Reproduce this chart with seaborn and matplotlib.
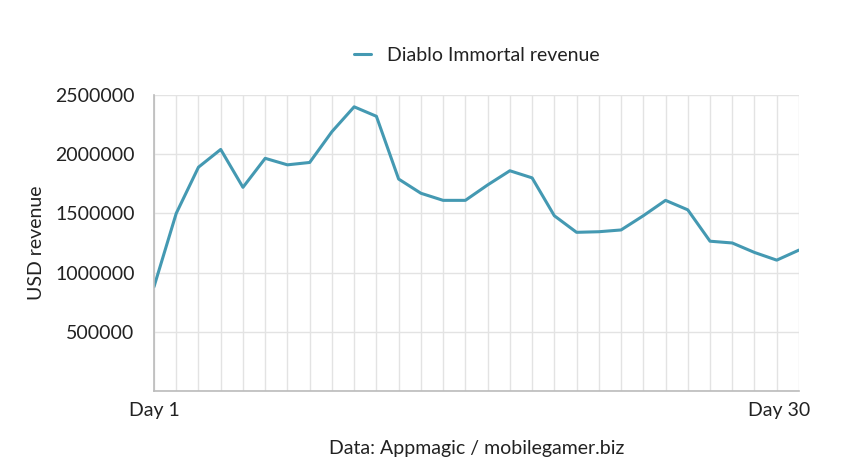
import pandas as pd
import seaborn as sns
import matplotlib.pyplot as plt
from matplotlib.transforms import ScaledTranslation

days = list(range(1, 31))
revenue = [880000, 1500000, 1890000, 2040000, 1720000, 1965000, 1910000, 1930000,
           2190000, 2400000, 2320000, 1790000, 1670000, 1610000, 1610000, 1740000,
           1860000, 1800000, 1480000, 1340000, 1345000, 1360000, 1480000, 1610000,
           1530000, 1265000, 1250000, 1170000, 1105000, 1190000]
y_ticks = [0, 500000, 1000000, 1500000, 2000000, 2500000]
y_tick_labels = ['', '500000', '1000000', '1500000', '2000000', '2500000']

df = pd.DataFrame({'Day': days, 'Diablo Immortal revenue': revenue})

sns.set_style('whitegrid')
plt.rcParams['font.family'] = ['Lato', 'DejaVu Sans']

fig = plt.figure(figsize=(8.47, 4.73), dpi=100)
ax = fig.add_axes([0.1818, 0.1734, 0.7615, 0.6258])

sns.lineplot(data=df, x='Day', y='Diablo Immortal revenue', ax=ax,
             color='#4499b2', linewidth=2.2, label='Diablo Immortal revenue')

ax.set_xlim(1, 30)
ax.set_ylim(0, 2500000)
ax.set_xticks(days)
ax.set_xticklabels(['Day 1'] + [''] * 28 + ['Day 30'])
ax.set_yticks(y_ticks)
ax.set_yticklabels(y_tick_labels)
ax.grid(True, color='#e3e3e3', linewidth=1)
ax.tick_params(axis='both', labelsize=14, colors='#222222', length=0, pad=8)
ax.tick_params(axis='y', length=8, color='#cccccc', pad=6)

# last tick label sits a little left of its tick, as in the source
last = ax.get_xticklabels()[-1]
last.set_transform(last.get_transform() + ScaledTranslation(-0.2, 0, fig.dpi_scale_trans))

for s in ['top', 'right']:
    ax.spines[s].set_visible(False)
for s in ['left', 'bottom']:
    ax.spines[s].set_color('#bbbbbb')
    ax.spines[s].set_linewidth(1.2)

ax.set_ylabel('USD revenue', fontsize=14, color='#222222', labelpad=7)
ax.set_xlabel('Data: Appmagic / mobilegamer.biz', fontsize=14, color='#222222', labelpad=15)

ax.legend(loc='center', bbox_to_anchor=(0.5, 1.135), frameon=False,
          fontsize=14, handlelength=0.9, labelcolor='#222222')

fig.savefig('out.png', dpi=100)
